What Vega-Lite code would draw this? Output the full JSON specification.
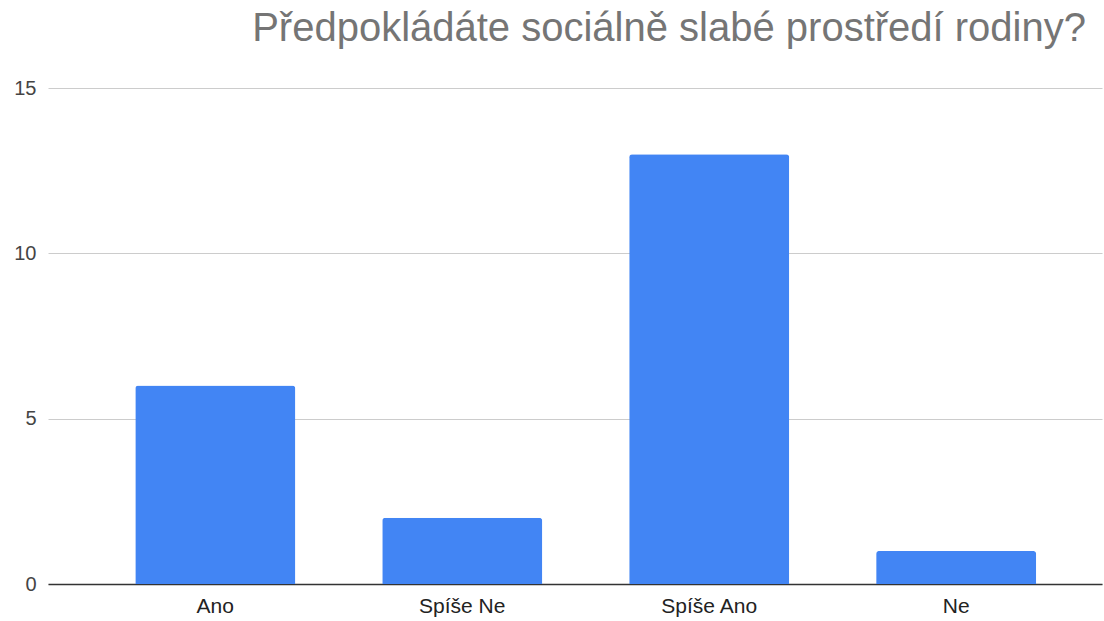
{
  "$schema": "https://vega.github.io/schema/vega-lite/v6.json",
  "width": 1054,
  "height": 496,
  "autosize": {"type": "none"},
  "padding": {"left": 48, "top": 88, "right": 2, "bottom": 37},
  "background": "white",
  "title": {
    "text": "Předpokládáte sociálně slabé prostředí rodiny?",
    "anchor": "end",
    "font": "Liberation Sans",
    "fontSize": 40,
    "fontWeight": "normal",
    "color": "#757575",
    "offset": 29,
    "dx": -16
  },
  "data": {
    "values": [
      {"odpoved": "Ano", "pocet": 6},
      {"odpoved": "Spíše Ne", "pocet": 2},
      {"odpoved": "Spíše Ano", "pocet": 13},
      {"odpoved": "Ne", "pocet": 1}
    ]
  },
  "mark": {"type": "bar", "color": "#4285F4", "cornerRadiusTopLeft": 3, "cornerRadiusTopRight": 3},
  "encoding": {
    "x": {
      "field": "odpoved",
      "type": "nominal",
      "sort": null,
      "scale": {"paddingInner": 0.352, "paddingOuter": 0.31, "align": 0.57},
      "axis": {
        "title": null,
        "labelAngle": 0,
        "ticks": false,
        "domain": true,
        "domainColor": "#333333",
        "domainWidth": 1.5,
        "labelFont": "Liberation Sans",
        "labelFontSize": 21,
        "labelColor": "#222222",
        "labelPadding": 11
      }
    },
    "y": {
      "field": "pocet",
      "type": "quantitative",
      "scale": {"domain": [0, 15], "nice": false},
      "axis": {
        "title": null,
        "values": [0, 5, 10, 15],
        "ticks": false,
        "domain": false,
        "gridColor": "#cccccc",
        "gridWidth": 1,
        "labelFont": "Liberation Sans",
        "labelFontSize": 20,
        "labelColor": "#444444",
        "labelPadding": 12
      }
    }
  },
  "config": {"view": {"stroke": null}}
}
